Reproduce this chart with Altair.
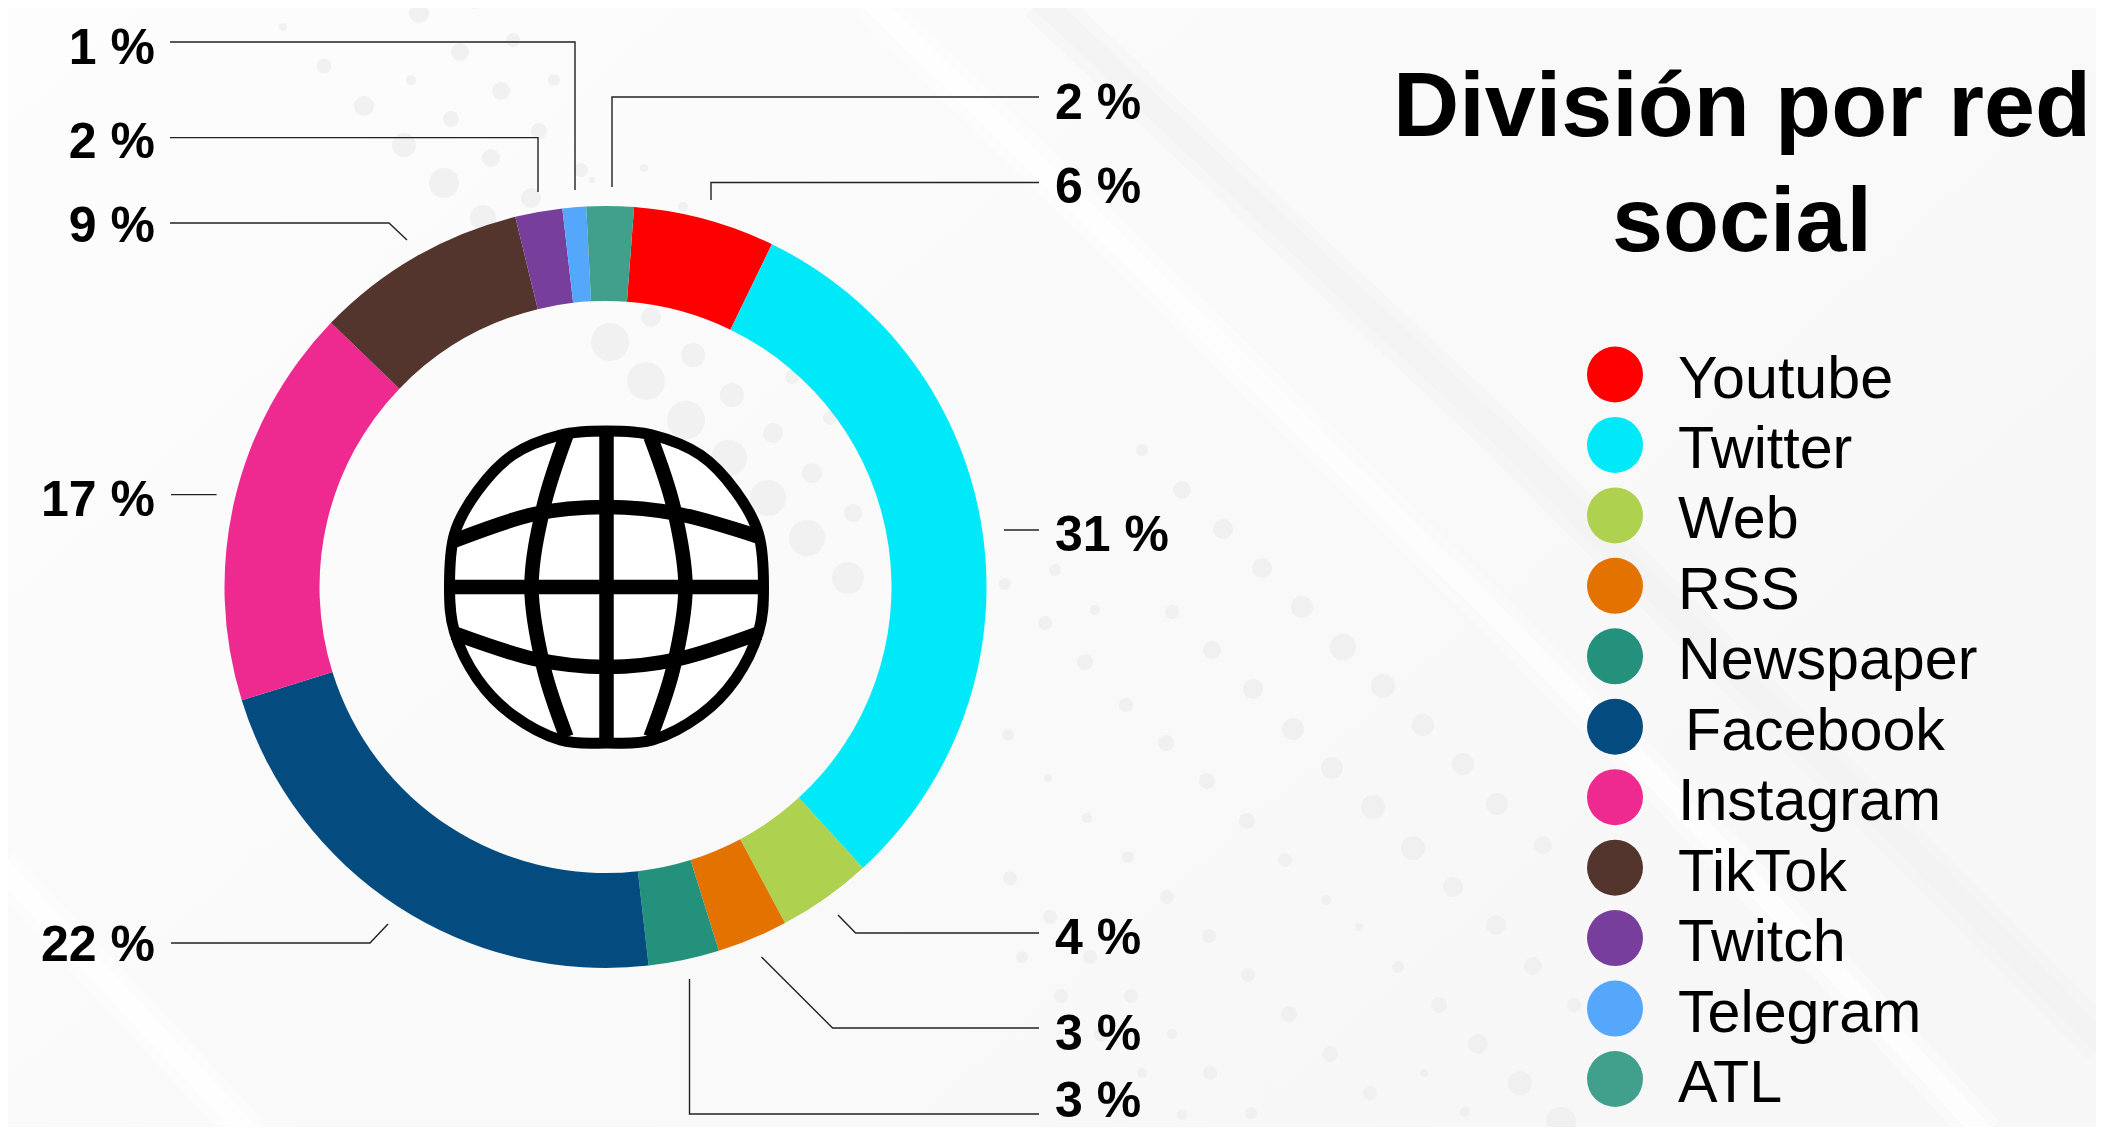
import math
import altair as alt
import pandas as pd

W, H = 2088, 1119
OFF = 8  # page margin

# ---- data
networks = ["Youtube", "Twitter", "Web", "RSS", "Newspaper", "Facebook",
            "Instagram", "TikTok", "Twitch", "Telegram", "ATL"]
shares = [6, 31, 4, 3, 3, 22, 17, 9, 2, 1, 2]
colors = ["#FF0000", "#00E9F9", "#AED14F", "#E47200", "#23917B", "#044C7F",
          "#EE2990", "#53352D", "#773E9C", "#54A7FB", "#40A08C"]

# ---- layout (page pixels)
CX, CY = 605.5, 587
START_DEG = 4.3
legend_x, legend_y0, legend_step = 1615, 374.5, 70.45
legend_text_x = [1678, 1678, 1678, 1678, 1678, 1685, 1678, 1678, 1678, 1678, 1678]

label_text = ["6 %", "31 %", "4 %", "3 %", "3 %", "22 %", "17 %", "9 %", "2 %", "1 %", "2 %"]
label_x = [1055, 1055, 1055, 1055, 1055, 155, 155, 155, 155, 155, 1055]
label_y = [203.3, 551.3, 953.5, 1050, 1117, 961.3, 516.3, 241.8, 157.8, 63.5, 119.3]
label_align = ["left"] * 5 + ["right"] * 5 + ["left"]

leaders = [
    [(1039, 182.5), (711, 182.5), (711, 200)],
    [(1004, 530), (1039, 530)],
    [(1039, 933), (855.6, 933), (838, 915)],
    [(1039, 1028), (832.6, 1028), (761.5, 957)],
    [(1039, 1114), (689.5, 1114), (689.5, 979)],
    [(171, 943), (370, 943), (388, 924)],
    [(171, 494.6), (216.6, 494.6)],
    [(170, 223), (389, 223), (407, 240)],
    [(170, 137.6), (538, 137.6), (538, 192)],
    [(170, 42), (575, 42), (575, 190)],
    [(1039, 97), (612, 97), (612, 187)],
]

title_lines = ["División por red", "social"]
title_y = [136, 251]
title_x = 1742

# globe wire-frame, offsets from the globe centre
GX, GY = 606.5, 587
outline = [
    (0, -156), (46, -152), (94, -132), (129, -96), (152, -53), (157, 0),
    (152, 45), (129, 92), (94, 128), (46, 153), (0, 156), (-46, 153),
    (-94, 128), (-129, 92), (-152, 45), (-157, 0), (-152, -53), (-129, -96),
    (-94, -132), (-46, -152),
]
meridians = [
    [(-40, -152), (-63, -80), (-75, 0), (-63, 80), (-40, 150)],
    [(44, -150), (67, -80), (79, 0), (67, 80), (44, 150)],
    [(0, -156), (0, 156)],
]
parallels = [
    [(-153, -46), (-72, -73), (0, -80), (72, -73), (153, -50)],
    [(-153, 46), (-72, 72), (0, 80), (72, 72), (153, 46)],
    [(-156, 0), (156, 0)],
]

# faint background dots (x, y, diameter)
bg_dots = [
    (419, 13, 20), (283, 27, 8), (474, 3, 12), (324, 66, 15), (460, 52, 18), (513, 40, 14), (411, 80, 10),
    (501, 91, 18), (554, 80, 12), (364, 106, 20), (451, 119, 16), (539, 131, 16), (404, 145, 24), (491, 158, 18),
    (444, 183, 30), (581, 170, 14), (531, 198, 20), (483, 218, 26), (644, 168, 8), (592, 180, 6), (683, 207, 10),
    (651, 317, 20), (610, 342, 38), (693, 355, 24), (646, 381, 38), (732, 395, 24), (686, 420, 38), (773, 433, 20),
    (729, 458, 36), (812, 473, 20), (768, 498, 36), (853, 513, 18), (807, 538, 36), (848, 578, 32), (792, 377, 14),
    (830, 418, 14), (1005, 584, 12), (1055, 570, 12), (1045, 623, 14), (1095, 610, 10), (1085, 662, 16),
    (1142, 450, 12), (1182, 490, 18), (1223, 529, 20), (1262, 568, 20), (1302, 607, 22), (1343, 647, 26),
    (1383, 686, 24), (1423, 725, 22), (1463, 764, 22), (1497, 804, 22), (1172, 612, 14), (1212, 650, 18),
    (1253, 689, 20), (1293, 729, 22),
    (1126, 705, 14), (1008, 735, 12), (1166, 743, 16), (1332, 768, 22), (1207, 781, 16), (1048, 778, 8),
    (1247, 821, 16), (1373, 807, 24), (1087, 818, 10), (1413, 848, 24), (1543, 845, 18), (1285, 860, 14),
    (1128, 857, 12), (1010, 878, 14), (1453, 887, 20), (1167, 897, 14), (1326, 900, 10), (1050, 917, 14),
    (1496, 925, 20), (1359, 927, 8), (1209, 936, 14), (1090, 957, 14), (1022, 957, 12), (1398, 967, 12),
    (1533, 966, 18), (1248, 975, 14), (1061, 996, 14), (1131, 996, 14), (1439, 1005, 16), (1289, 1014, 16),
    (1101, 1035, 14), (1172, 1034, 10), (1478, 1044, 20), (1574, 1005, 14), (1330, 1054, 16), (1142, 1073, 10),
    (1210, 1073, 14), (1424, 1073, 8), (1520, 1083, 24), (1370, 1093, 14), (1182, 1115, 10), (1251, 1113, 12),
    (1465, 1112, 10), (1561, 1122, 30),
]
light_bands = [
    [(870, 0), (1500, 620), (1656, 779), (1903, 1045), (1985, 1135)],
    [(0, 866), (250, 1135)],
]
grey_bands = [
    [(1040, 0), (1500, 434), (2104, 1045)],
]


def px(x):
    return x - OFF


x_scale = alt.Scale(domain=[0, W], range=[0, W])
y_scale = alt.Scale(domain=[0, H], range=[0, H])
X = alt.X("x:Q", scale=x_scale, axis=None)
Y = alt.Y("y:Q", scale=y_scale, axis=None)


def poly_table(groups, prefix=""):
    return pd.DataFrame([
        {"g": f"{prefix}{i}", "o": j, "x": px(a), "y": px(b)}
        for i, pts in enumerate(groups) for j, (a, b) in enumerate(pts)
    ])


def shift(groups):
    return [[(GX + a, GY + b) for a, b in pts] for pts in groups]


slices = pd.DataFrame({"network": networks, "share": shares, "order": range(len(networks))})
legend = pd.DataFrame({
    "network": networks,
    "x": [px(legend_x)] * len(networks),
    "tx": [px(v) for v in legend_text_x],
    "y": [px(legend_y0 + i * legend_step) for i in range(len(networks))],
})
labels = pd.DataFrame({"t": label_text, "x": [px(v) for v in label_x],
                       "y": [px(v) for v in label_y], "a": label_align})
titles = pd.DataFrame({"t": title_lines, "x": [px(title_x)] * 2, "y": [px(v) for v in title_y]})
dots = pd.DataFrame([{"x": px(a), "y": px(b), "s": d * d} for a, b, d in bg_dots])

color = alt.Color("network:N", scale=alt.Scale(domain=networks, range=colors), legend=None)
start = math.radians(START_DEG)


def band(groups, colour, width, opacity):
    return alt.Chart(poly_table(groups)).mark_line(
        stroke=colour, strokeWidth=width, opacity=opacity, clip=True
    ).encode(x=X, y=Y, detail="g:N", order="o:Q")


backdrop = alt.Chart(pd.DataFrame({"k": [0]})).mark_rect(
    fill=alt.LinearGradient(
        gradient="linear", x1=0, y1=0, x2=1, y2=0.6,
        stops=[alt.GradientStop(color="#fdfdfd", offset=0),
               alt.GradientStop(color="#fafafa", offset=0.45),
               alt.GradientStop(color="#f7f7f7", offset=1)])
).encode(x=alt.value(0), x2=alt.value(W), y=alt.value(0), y2=alt.value(H))

bands = [
    band(grey_bands, "#f2f2f2", 44, 0.35),
    band(grey_bands, "#f2f2f2", 22, 0.5),
    band(light_bands, "#ffffff", 40, 0.35),
    band(light_bands, "#ffffff", 20, 0.6),
]
dot_layer = alt.Chart(dots).mark_circle(color="#ececec", opacity=0.7, clip=True).encode(
    x=X, y=Y, size=alt.Size("s:Q", scale=None, legend=None))

donut = alt.Chart(slices).mark_arc(innerRadius=286, outerRadius=381).encode(
    theta=alt.Theta("share:Q", stack=True,
                    scale=alt.Scale(domain=[0, 100], range=[start, start + 2 * math.pi])),
    order=alt.Order("order:Q"),
    color=color,
    x=alt.value(px(CX)),
    y=alt.value(px(CY)),
)

globe_disc = alt.Chart(pd.DataFrame({"x": [px(GX)], "y": [px(GY)]})).mark_circle(
    fill="#ffffff", opacity=1, size=312 ** 2
).encode(x=X, y=Y)
globe_outline = alt.Chart(poly_table(shift([outline]))).mark_line(
    color="#000000", strokeWidth=11, interpolate="cardinal-closed"
).encode(x=X, y=Y, detail="g:N", order="o:Q")
globe_wire = alt.Chart(poly_table(shift(meridians + parallels))).mark_line(
    color="#000000", strokeWidth=14.5, interpolate="cardinal", strokeCap="butt"
).encode(x=X, y=Y, detail="g:N", order="o:Q")

leader_layer = alt.Chart(poly_table(leaders)).mark_line(color="#222222", strokeWidth=1.4).encode(
    x=X, y=Y, detail="g:N", order="o:Q")

FONT = "Liberation Sans"
label_layers = [
    alt.Chart(labels[labels.a == a]).mark_text(
        font=FONT, fontSize=50, fontWeight="bold", color="#000000",
        align=a, baseline="alphabetic").encode(x=X, y=Y, text="t:N")
    for a in ("left", "right")
]
title_layer = alt.Chart(titles).mark_text(
    font=FONT, fontSize=91.7, fontWeight="bold", color="#000000",
    align="center", baseline="alphabetic").encode(x=X, y=Y, text="t:N")
legend_dots = alt.Chart(legend).mark_circle(opacity=1, size=56 ** 2).encode(x=X, y=Y, color=color)
legend_text = alt.Chart(legend).mark_text(
    font=FONT, fontSize=59.2, color="#000000", align="left", baseline="alphabetic", dy=23
).encode(x=alt.X("tx:Q", scale=x_scale, axis=None), y=Y, text="network:N")

chart = alt.layer(
    backdrop, *bands, dot_layer, donut, globe_disc, globe_outline, globe_wire, leader_layer,
    *label_layers, title_layer, legend_dots, legend_text
).properties(
    width=W, height=H, padding=0, background="#f9f9f9", autosize=alt.AutoSizeParams(type="none")
).configure_view(stroke=None)

chart.save("out.html", embed_options={"renderer": "svg", "actions": False})
